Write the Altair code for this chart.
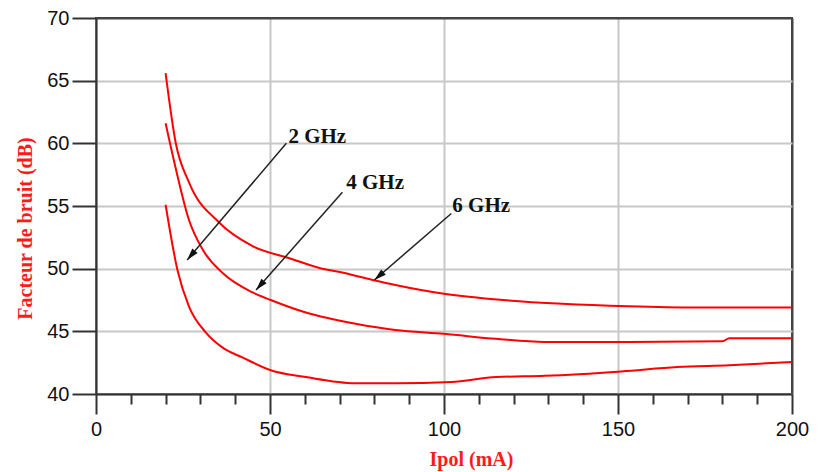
import math
import altair as alt
import pandas as pd

# ---- data ----
x_2ghz = [20, 23.4, 26.7, 31.6, 36.4, 42.2, 50.2, 60.3, 74.6, 86, 102, 115, 129, 151, 167, 182, 200]
y_2ghz = [55.1, 49.9, 47.0, 44.9, 43.7, 42.9, 41.9, 41.35, 40.85, 40.85, 40.95, 41.35, 41.45, 41.8, 42.15, 42.3, 42.55]

x_4ghz = [20, 23, 26.7, 30.7, 36.4, 45, 50.2, 60.3, 74.6, 86, 100, 115, 129, 153, 180, 182, 200]
y_4ghz = [61.6, 57.9, 53.9, 51.5, 49.65, 48.1, 47.5, 46.5, 45.6, 45.1, 44.8, 44.4, 44.15, 44.15, 44.2, 44.45, 44.45]

x_6ghz = [20, 22.9, 26.7, 35.3, 45, 55.4, 65, 69.7, 79.5, 86, 100, 117, 134, 153, 172, 200]
y_6ghz = [65.6, 60.05, 56.9, 53.7, 51.8, 50.85, 50.0, 49.75, 49.1, 48.7, 48.0, 47.5, 47.2, 47.0, 46.9, 46.9]

labels = ["2 GHz", "4 GHz", "6 GHz"]
label_x = [55.3, 71.9, 102.4]
label_y = [60.5, 56.8, 55.0]
arrow_x0 = [54.7, 70.8, 102.1]
arrow_y0 = [60.0, 56.1, 54.4]
arrow_x1 = [26.2, 46.0, 80.0]
arrow_y1 = [50.7, 48.3, 49.1]

x_major = [0, 50, 100, 150, 200]
x_minor = [10, 20, 30, 40, 60, 70, 80, 90, 110, 120, 130, 140, 160, 170, 180, 190]
y_major = [40, 45, 50, 55, 60, 65, 70]

W, H = 696, 376
XMIN, XMAX, YMIN, YMAX = 0, 200, 40, 70

rows = []
for name, xs, ys in [("2 GHz", x_2ghz, y_2ghz), ("4 GHz", x_4ghz, y_4ghz), ("6 GHz", x_6ghz, y_6ghz)]:
    for i, (a, b) in enumerate(zip(xs, ys)):
        rows.append({"series": name, "x": a, "y": b, "o": i})
df_lines = pd.DataFrame(rows)

px_per_x = W / (XMAX - XMIN)
px_per_y = H / (YMAX - YMIN)
angles = []
for x0, y0, x1, y1 in zip(arrow_x0, arrow_y0, arrow_x1, arrow_y1):
    dx = (x1 - x0) * px_per_x
    dy = -(y1 - y0) * px_per_y
    angles.append((math.degrees(math.atan2(dx, -dy)) + 360) % 360)

df_ann = pd.DataFrame({
    "label": labels, "lx": label_x, "ly": label_y,
    "x0": arrow_x0, "y0": arrow_y0, "x1": arrow_x1, "y1": arrow_y1, "angle": angles,
})
df_minor = pd.DataFrame({"x": x_minor})

xscale = alt.Scale(domain=[XMIN, XMAX], nice=False, zero=False)
yscale = alt.Scale(domain=[YMIN, YMAX], nice=False, zero=False)

x_axis = alt.Axis(
    orient="bottom",
    values=x_major, tickSize=20, tickColor="#333", tickWidth=2,
    domainColor="#333", domainWidth=2,
    labelFont="Liberation Sans", labelFontSize=20, labelColor="#111", labelPadding=5,
    labelFlush=False,
    grid=True,
    gridColor={"condition": {"test": "datum.value == 200", "value": "#444"}, "value": "#c8c8c8"},
    gridWidth=2,
    title="Ipol (mA)", titleFont="Liberation Serif", titleFontWeight="bold",
    titleFontSize=20, titleColor="#ff1a1a", titleX=375, titleY=65,
    titleBaseline="middle", titleAlign="center",
)
y_axis = alt.Axis(
    values=y_major, tickSize=24, tickColor="#333", tickWidth=2,
    domainColor="#333", domainWidth=2,
    labelFont="Liberation Sans", labelFontSize=20, labelColor="#111", labelPadding=3,
    labelFlush=False,
    grid=True,
    gridColor={"condition": {"test": "datum.value == 70", "value": "#444"}, "value": "#c8c8c8"},
    gridWidth=2,
    title="Facteur de bruit (dB)", titleFont="Liberation Serif", titleFontWeight="bold",
    titleFontSize=20, titleColor="#ff1a1a", titleX=-71, titleY=210, titleAngle=-90,
    titleBaseline="middle", titleAlign="center",
)
minor_axis = alt.Axis(
    orient="bottom",
    values=x_minor, tickSize=10, tickColor="#333", tickWidth=2,
    labels=False, domain=False, grid=False, title=None,
)

lines = alt.Chart(df_lines).mark_line(color="#ff0000", strokeWidth=2, interpolate="monotone").encode(
    x=alt.X("x:Q", scale=xscale, axis=x_axis),
    y=alt.Y("y:Q", scale=yscale, axis=y_axis),
    detail="series:N",
    order="o:Q",
)

minor = alt.Chart(df_minor).mark_point(opacity=0).encode(
    x=alt.X("x:Q", scale=xscale, axis=minor_axis),
    y=alt.value(0),
)

arrows = alt.Chart(df_ann).mark_rule(color="#222", strokeWidth=1.5).encode(
    x=alt.X("x0:Q", scale=xscale, axis=None), y=alt.Y("y0:Q", scale=yscale),
    x2="x1:Q", y2="y1:Q",
)
heads = alt.Chart(df_ann).mark_point(
    shape="M0,0 L-0.7,2.4 L0.7,2.4 Z", filled=True, color="#111", opacity=1, size=100,
).encode(
    x=alt.X("x1:Q", scale=xscale, axis=None), y=alt.Y("y1:Q", scale=yscale),
    angle=alt.Angle("angle:Q", scale=None),
)
texts = alt.Chart(df_ann).mark_text(
    align="left", baseline="middle", font="Liberation Serif", fontWeight="bold",
    fontSize=21, color="#111",
).encode(
    x=alt.X("lx:Q", scale=xscale, axis=None), y=alt.Y("ly:Q", scale=yscale),
    text="label:N",
)

chart = alt.layer(lines, minor, arrows, heads, texts).resolve_axis(x="independent").properties(
    width=W, height=H,
    autosize=alt.AutoSizeParams(type="none"),
    padding={"left": 88, "top": 10, "right": 20, "bottom": 78},
).configure_view(stroke="#444", strokeWidth=2)

chart.save("out.html", embed_options={"renderer": "svg", "actions": False})
